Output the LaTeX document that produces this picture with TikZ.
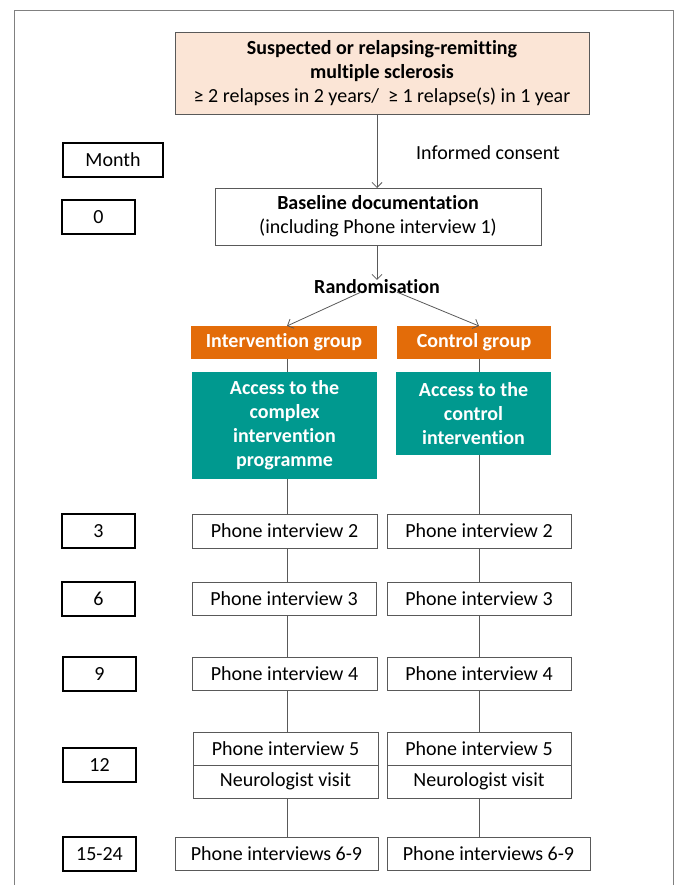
\documentclass[tikz,border=0pt]{standalone}
\usepackage{fontspec}
\setmainfont{Carlito}[Ligatures=NoCommon]
\usetikzlibrary{arrows.meta}
\definecolor{peach}{HTML}{FBE5D6}
\definecolor{orng}{HTML}{E36C09}
\definecolor{teal2}{HTML}{00998F}
\definecolor{edge}{HTML}{595959}
\newcommand{\bx}[7]{%
  \pgfmathsetmacro{\bw}{#4-#2}\pgfmathsetmacro{\bh}{#5-#3}%
  \pgfmathsetmacro{\cx}{(#2+#4)/2}\pgfmathsetmacro{\cy}{(#3+#5)/2}%
  \node[#6, minimum width=\bw pt, minimum height=\bh pt] (#1) at (\cx,\cy) {#7};}
\begin{document}
\begin{tikzpicture}[x=1pt,y=-1pt,
  every node/.style={font=\fontsize{20}{24}\selectfont, inner sep=0pt, outer sep=0pt, align=center},
  plain/.style={draw=edge, line width=0.8pt, fill=white},
  month/.style={draw=black, line width=2pt, fill=white},
  top/.style={draw=edge, line width=0.8pt, fill=peach},
  grp/.style={fill=orng, text=white, font=\fontsize{20}{24}\selectfont\bfseries},
  acc/.style={fill=teal2, text=white, font=\fontsize{20}{24}\selectfont\bfseries},
  conn/.style={draw=edge, line width=0.8pt},
  arr/.style={conn, -{Straight Barb[length=5pt,width=10pt]}}]
\useasboundingbox (0,0) rectangle (677,885);
\draw[draw=gray, line width=0.8pt] (14,885) -- (14,10) -- (673,10) -- (673,885);
% left month column
\bx{mon}{63}{143}{163}{177}{month}{Month}
\bx{m0}{62}{200}{135}{234}{month}{0}
\bx{m3}{62}{514}{135}{548}{month}{3}
\bx{m6}{62}{582}{135}{616}{month}{6}
\bx{m9}{63}{657}{136}{691}{month}{9}
\bx{m12}{63}{748}{136}{782}{month}{12}
\bx{m15}{63}{837}{136}{871}{month}{15-24}
% top
\bx{top}{175}{32}{589}{114}{top}{\textbf{Suspected or relapsing-remitting}\\\textbf{multiple sclerosis}\\≥ 2 relapses in 2 years/\ \ ≥ 1 relapse(s) in 1 year}
\node (ic) at (488,153) {Informed consent};
\bx{base}{215}{188}{541}{245}{plain}{\textbf{Baseline documentation}\\(including Phone interview 1)}
\node[font=\fontsize{20}{24}\selectfont\bfseries] (rand) at (377,287) {Randomisation};
\bx{ig}{191}{326}{377}{359}{grp}{Intervention group}
\bx{cg}{397}{326}{551}{359}{grp}{Control group}
\bx{ai}{192}{372}{377}{479}{acc}{Access to the\\complex\\intervention\\programme}
\bx{ac}{396}{372}{551}{455}{acc}{Access to the\\control\\intervention}
\bx{p2l}{192}{514}{377}{548}{plain}{Phone interview 2}
\bx{p2r}{387}{514}{571}{548}{plain}{Phone interview 2}
\bx{p3l}{192}{582}{376}{615}{plain}{Phone interview 3}
\bx{p3r}{387}{582}{571}{615}{plain}{Phone interview 3}
\bx{p4l}{192}{657}{377}{690}{plain}{Phone interview 4}
\bx{p4r}{387}{657}{571}{690}{plain}{Phone interview 4}
\bx{p5l}{193}{732}{378}{765}{plain}{Phone interview 5}
\bx{p5r}{387}{732}{571}{765}{plain}{Phone interview 5}
\bx{nvl}{193}{765}{378}{798}{plain}{Neurologist visit}
\bx{nvr}{387}{765}{571}{798}{plain}{Neurologist visit}
\bx{p6l}{175}{837}{378}{870}{plain}{Phone interviews 6-9}
\bx{p6r}{387}{837}{590}{870}{plain}{Phone interviews 6-9}
% connectors
\coordinate (lx) at (287,0);
\coordinate (rx) at (479,0);
\coordinate (mx) at (377,0);
\draw[arr] (top.south -| mx) -- (base.north -| mx);
\draw[arr] (base.south -| mx) -- (rand.north -| mx);
\draw[arr] ([xshift=-16pt,yshift=2pt]rand.south) -- (ig.north -| lx);
\draw[arr] ([xshift=20pt,yshift=2pt]rand.south) -- (cg.north -| rx);
\draw[conn] (ig.south -| lx) -- (ai.north -| lx);
\draw[conn] (ai.south -| lx) -- (p2l.north -| lx);
\draw[conn] (p2l.south -| lx) -- (p3l.north -| lx);
\draw[conn] (p3l.south -| lx) -- (p4l.north -| lx);
\draw[conn] (p4l.south -| lx) -- (p5l.north -| lx);
\draw[conn] (nvl.south -| lx) -- (p6l.north -| lx);
\draw[conn] (cg.south -| rx) -- (ac.north -| rx);
\draw[conn] (ac.south -| rx) -- (p2r.north -| rx);
\draw[conn] (p2r.south -| rx) -- (p3r.north -| rx);
\draw[conn] (p3r.south -| rx) -- (p4r.north -| rx);
\draw[conn] (p4r.south -| rx) -- (p5r.north -| rx);
\draw[conn] (nvr.south -| rx) -- (p6r.north -| rx);
\end{tikzpicture}
\end{document}
